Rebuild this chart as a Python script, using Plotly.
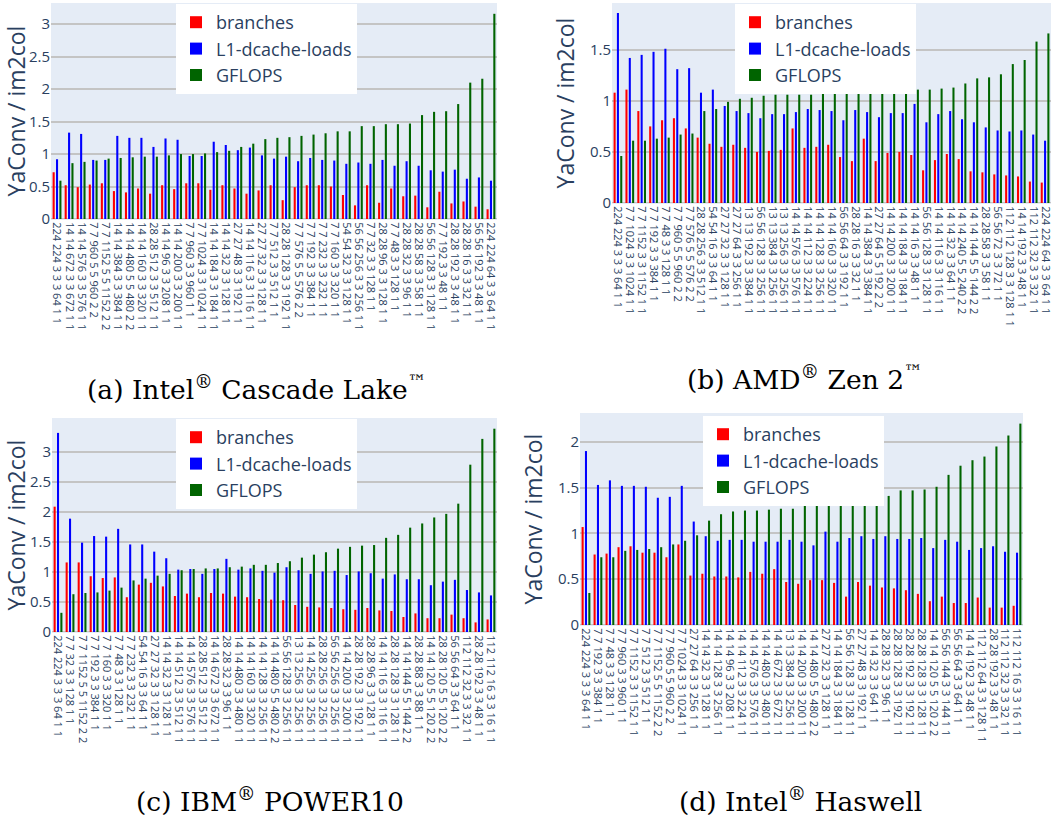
import plotly.graph_objects as go

labels_a = [
    "224 224 3 3 3 64 1 1", "14 14 672 3 3 672 1 1", "14 14 576 3 3 576 1 1",
    "7 7 960 5 5 960 2 2", "7 7 1152 5 5 1152 2 2", "14 14 384 3 3 384 1 1",
    "14 14 480 5 5 480 2 2", "14 14 160 3 3 320 1 1", "28 28 512 3 3 512 1 1",
    "14 14 96 3 3 208 1 1", "14 14 200 3 3 200 1 1", "7 7 960 3 3 960 1 1",
    "7 7 1024 3 3 1024 1 1", "14 14 184 3 3 184 1 1", "14 14 32 3 3 128 1 1",
    "27 27 48 3 3 192 1 1", "14 14 116 3 3 116 1 1", "27 27 32 3 3 128 1 1",
    "7 7 512 3 3 512 1 1", "28 28 128 3 3 192 1 1", "7 7 576 5 5 576 2 2",
    "7 7 192 3 3 384 1 1", "7 7 232 3 3 232 1 1", "7 7 160 3 3 320 1 1",
    "54 54 32 3 3 128 1 1", "56 56 256 3 3 256 1 1", "7 7 32 3 3 128 1 1",
    "28 28 96 3 3 128 1 1", "7 7 48 3 3 128 1 1", "28 28 32 3 3 96 1 1",
    "28 28 58 3 3 58 1 1", "56 56 128 3 3 128 1 1", "7 7 192 3 3 48 1 1",
    "28 28 192 3 3 48 1 1", "28 28 16 3 3 32 1 1", "56 56 192 3 3 48 1 1",
    "224 224 64 3 3 64 1 1"]
branches_a = [0.72, 0.52, 0.49, 0.53, 0.55, 0.43, 0.41, 0.47, 0.39, 0.52, 0.46, 0.55, 0.55,
              0.45, 0.52, 0.47, 0.39, 0.44, 0.52, 0.29, 0.49, 0.52, 0.52, 0.50, 0.37, 0.21,
              0.52, 0.25, 0.47, 0.35, 0.36, 0.18, 0.42, 0.24, 0.27, 0.19, 0.15]
l1_a = [0.92, 1.33, 1.31, 0.91, 0.91, 1.28, 1.25, 1.25, 1.11, 1.24, 1.22, 0.97, 0.97,
        1.19, 1.14, 1.06, 1.10, 0.98, 0.93, 0.96, 0.89, 0.94, 0.91, 0.90, 0.85, 0.87,
        0.85, 0.91, 0.82, 0.89, 0.82, 0.75, 0.73, 0.76, 0.62, 0.64, 0.59]
gflops_a = [0.59, 0.86, 0.88, 0.90, 0.93, 0.94, 0.95, 0.96, 0.96, 0.98, 1.00, 1.00, 1.01,
            1.03, 1.05, 1.11, 1.16, 1.23, 1.25, 1.26, 1.28, 1.30, 1.32, 1.35, 1.35, 1.43,
            1.43, 1.46, 1.46, 1.47, 1.60, 1.65, 1.66, 1.77, 2.10, 2.16, 3.16]

labels_b = [
    "224 224 3 3 3 64 1 1", "7 7 1024 3 3 1024 1 1", "7 7 1152 3 3 1152 1 1",
    "7 7 192 3 3 384 1 1", "7 7 48 3 3 128 1 1", "7 7 960 5 5 960 2 2",
    "7 7 576 5 5 576 2 2", "28 28 256 3 3 512 1 1", "54 54 16 3 3 64 1 1",
    "27 27 32 3 3 128 1 1", "27 27 64 3 3 256 1 1", "13 13 192 3 3 384 1 1",
    "56 56 128 3 3 256 1 1", "13 13 384 3 3 256 1 1", "13 13 256 3 3 256 1 1",
    "14 14 576 3 3 576 1 1", "14 14 112 3 3 224 1 1", "14 14 128 3 3 256 1 1",
    "14 14 160 3 3 320 1 1", "56 56 64 3 3 192 1 1", "28 28 16 3 3 32 1 1",
    "14 14 384 3 3 384 1 1", "27 27 64 5 5 192 2 2", "14 14 200 3 3 200 1 1",
    "14 14 184 3 3 184 1 1", "14 14 16 3 3 48 1 1", "56 56 128 3 3 128 1 1",
    "14 14 116 3 3 116 1 1", "14 14 32 3 3 64 1 1", "14 14 240 5 5 240 2 2",
    "14 14 144 5 5 144 2 2", "28 28 58 3 3 58 1 1", "56 56 72 3 3 72 1 1",
    "112 112 128 3 3 128 1 1", "14 14 192 3 3 48 1 1", "112 112 32 3 3 32 1 1",
    "224 224 64 3 3 64 1 1"]
branches_b = [1.08, 1.11, 0.90, 0.75, 0.81, 0.83, 0.73, 0.64, 0.58, 0.55, 0.57, 0.54, 0.50,
              0.51, 0.52, 0.73, 0.54, 0.55, 0.57, 0.45, 0.41, 0.63, 0.41, 0.49, 0.50, 0.47,
              0.32, 0.42, 0.48, 0.43, 0.31, 0.30, 0.28, 0.27, 0.26, 0.21, 0.20]
l1_b = [1.86, 1.42, 1.45, 1.48, 1.51, 1.31, 1.32, 1.08, 1.11, 0.95, 0.90, 0.88, 0.83,
        0.87, 0.87, 0.89, 0.92, 0.91, 0.90, 0.81, 0.91, 0.89, 0.84, 0.88, 0.88, 0.97,
        0.79, 0.87, 0.90, 0.82, 0.79, 0.74, 0.71, 0.70, 0.71, 0.67, 0.61]
gflops_b = [0.46, 0.61, 0.61, 0.63, 0.64, 0.67, 0.68, 0.90, 0.92, 0.99, 1.02, 1.03, 1.05,
            1.06, 1.06, 1.06, 1.06, 1.07, 1.07, 1.08, 1.08, 1.08, 1.09, 1.09, 1.10, 1.11,
            1.11, 1.12, 1.13, 1.17, 1.22, 1.23, 1.26, 1.36, 1.40, 1.58, 1.66]

labels_c = [
    "224 224 3 3 3 64 1 1", "7 7 32 3 3 128 1 1", "7 7 1152 5 5 1152 2 2",
    "7 7 192 3 3 384 1 1", "7 7 160 3 3 320 1 1", "7 7 48 3 3 128 1 1",
    "7 7 232 3 3 232 1 1", "54 54 16 3 3 64 1 1", "27 27 32 3 3 128 1 1",
    "14 14 32 3 3 128 1 1", "14 14 512 3 3 512 1 1", "14 14 576 3 3 576 1 1",
    "28 28 512 3 3 512 1 1", "14 14 672 3 3 672 1 1", "28 28 32 3 3 96 1 1",
    "14 14 480 3 3 480 1 1", "14 14 160 3 3 320 1 1", "14 14 128 3 3 256 1 1",
    "14 14 480 5 5 480 2 2", "56 56 128 3 3 256 1 1", "13 13 256 3 3 256 1 1",
    "14 14 256 3 3 256 1 1", "28 28 256 3 3 256 1 1", "56 56 256 3 3 256 1 1",
    "14 14 200 3 3 200 1 1", "28 28 192 3 3 192 1 1", "28 28 96 3 3 128 1 1",
    "14 14 116 3 3 116 1 1", "28 28 128 3 3 128 1 1", "14 14 144 5 5 144 2 2",
    "28 28 88 3 3 88 1 1", "14 14 120 5 5 120 2 2", "28 28 120 5 5 120 2 2",
    "56 56 64 3 3 64 1 1", "112 112 32 3 3 32 1 1", "28 28 192 3 3 48 1 1",
    "112 112 16 3 3 16 1 1"]
branches_c = [2.09, 1.16, 1.16, 0.93, 0.90, 0.91, 0.58, 0.79, 0.82, 0.76, 0.60, 0.64, 0.58,
              0.65, 0.64, 0.59, 0.58, 0.55, 0.54, 0.53, 0.45, 0.42, 0.41, 0.40, 0.38, 0.37,
              0.40, 0.36, 0.35, 0.25, 0.31, 0.23, 0.23, 0.29, 0.23, 0.16, 0.21]
l1_c = [3.32, 1.89, 1.49, 1.60, 1.59, 1.72, 1.46, 1.46, 1.34, 1.23, 1.04, 1.05, 0.97,
        1.05, 1.22, 1.04, 1.06, 1.02, 0.99, 1.08, 1.03, 0.97, 1.01, 1.02, 0.95, 1.01,
        0.98, 0.89, 0.96, 0.88, 0.88, 0.78, 0.84, 0.87, 0.70, 0.66, 0.61]
gflops_c = [0.32, 0.63, 0.65, 0.66, 0.69, 0.74, 0.86, 0.89, 0.94, 0.97, 1.03, 1.05, 1.06,
            1.06, 1.08, 1.09, 1.12, 1.12, 1.15, 1.18, 1.24, 1.29, 1.33, 1.39, 1.42, 1.44,
            1.45, 1.57, 1.62, 1.74, 1.81, 1.91, 1.97, 2.14, 2.79, 3.22, 3.39]

labels_d = [
    "224 224 3 3 3 64 1 1", "7 7 192 3 3 384 1 1", "7 7 48 3 3 128 1 1",
    "7 7 960 3 3 960 1 1", "7 7 1152 3 3 1152 1 1", "7 7 512 3 3 512 1 1",
    "7 7 1152 5 5 1152 2 2", "7 7 960 5 5 960 2 2", "7 7 1024 3 3 1024 1 1",
    "27 27 64 3 3 256 1 1", "14 14 32 3 3 128 1 1", "14 14 128 3 3 256 1 1",
    "14 14 96 3 3 208 1 1", "14 14 112 3 3 224 1 1", "14 14 576 3 3 576 1 1",
    "14 14 480 3 3 480 1 1", "14 14 672 3 3 672 1 1", "13 13 384 3 3 256 1 1",
    "14 14 200 3 3 200 1 1", "14 14 480 5 5 480 2 2", "27 27 32 3 3 128 1 1",
    "14 14 184 3 3 184 1 1", "56 56 128 3 3 128 1 1", "27 27 48 3 3 192 1 1",
    "14 14 32 3 3 64 1 1", "28 28 32 3 3 96 1 1", "28 28 128 3 3 192 1 1",
    "28 28 192 3 3 192 1 1", "28 28 128 3 3 128 1 1", "14 14 120 5 5 120 2 2",
    "56 56 144 3 3 144 1 1", "56 56 64 3 3 64 1 1", "14 14 192 3 3 48 1 1",
    "112 112 64 3 3 128 1 1", "28 28 192 3 3 48 1 1", "112 112 32 3 3 32 1 1",
    "112 112 16 3 3 16 1 1"]
branches_d = [1.07, 0.77, 0.78, 0.85, 0.86, 0.79, 0.79, 0.74, 0.88, 0.54, 0.56, 0.53, 0.53,
              0.52, 0.58, 0.56, 0.61, 0.47, 0.45, 0.49, 0.49, 0.46, 0.31, 0.47, 0.43, 0.41,
              0.40, 0.38, 0.34, 0.26, 0.31, 0.24, 0.24, 0.30, 0.19, 0.19, 0.21]
l1_d = [1.90, 1.53, 1.58, 1.52, 1.52, 1.51, 1.39, 1.40, 1.52, 1.13, 0.97, 0.92, 0.93,
        0.93, 0.91, 0.91, 0.91, 0.93, 0.91, 0.87, 1.02, 0.91, 0.95, 0.97, 0.94, 0.97,
        0.94, 0.94, 0.95, 0.84, 0.93, 0.91, 0.82, 0.84, 0.86, 0.80, 0.79]
gflops_d = [0.35, 0.74, 0.74, 0.81, 0.82, 0.83, 0.85, 0.88, 0.92, 0.98, 1.14, 1.21, 1.24,
            1.25, 1.25, 1.26, 1.27, 1.27, 1.30, 1.33, 1.33, 1.34, 1.36, 1.37, 1.40, 1.41,
            1.47, 1.47, 1.48, 1.51, 1.64, 1.74, 1.80, 1.84, 1.95, 2.07, 2.20]

series_names = ["branches", "L1-dcache-loads", "GFLOPS"]
series_colors = ["#ff0000", "#0000ff", "#006400"]

captions = ["(a) Intel<sup>®</sup> Cascade Lake<sup>™</sup>",
            "(b) AMD<sup>®</sup> Zen 2<sup>™</sup>",
            "(c) IBM<sup>®</sup> POWER10",
            "(d) Intel<sup>®</sup> Haswell"]
y_ticks = [[0, 0.5, 1, 1.5, 2, 2.5, 3], [0, 0.5, 1, 1.5],
           [0, 0.5, 1, 1.5, 2, 2.5, 3], [0, 0.5, 1, 1.5, 2]]

W, H = 1053, 825
# pixel boxes: (left, right, top, bottom)
boxes = [(51, 497, 3, 219), (612, 1051, 3, 203), (52, 497, 418, 632), (580, 1023, 413, 625)]
legend_pos = [(176, 4), (735, 4), (176, 419), (703, 416)]
caption_pos = [(256, 388), (805, 378), (270, 800), (800, 800)]

panels = [
    (labels_a, [branches_a, l1_a, gflops_a]),
    (labels_b, [branches_b, l1_b, gflops_b]),
    (labels_c, [branches_c, l1_c, gflops_c]),
    (labels_d, [branches_d, l1_d, gflops_d]),
]

fig = go.Figure()
layout = dict(
    width=W, height=H,
    margin=dict(l=0, r=0, t=0, b=0),
    paper_bgcolor="white",
    plot_bgcolor="#E5ECF6",
    barmode="group",
    bargap=0.16,
    bargroupgap=0.38,
    font=dict(family="Open Sans, Verdana, Arial, sans-serif", color="#2a3f5f"),
    annotations=[],
)

for i, (labels, vals) in enumerate(panels):
    sfx = "" if i == 0 else str(i + 1)
    lg = "legend" if i == 0 else f"legend{i + 1}"
    for name, col, v in zip(series_names, series_colors, vals):
        fig.add_trace(go.Bar(
            x=labels, y=v, name=name, marker_color=col,
            marker_line_width=0,
            xaxis="x" + sfx, yaxis="y" + sfx, legend=lg,
        ))
    l, r, t, b = boxes[i]
    layout["xaxis" + sfx] = dict(
        domain=[l / W, r / W], anchor="y" + sfx, type="category",
        tickmode="linear", tick0=0, dtick=1,
        tickangle=90, tickfont=dict(size=11, color="#2a3f5f"),
        showgrid=False, automargin=False, ticks="", linecolor="#E5ECF6",
    )
    layout["yaxis" + sfx] = dict(
        domain=[1 - b / H, 1 - t / H], anchor="x" + sfx,
        tickmode="array", tickvals=y_ticks[i],
        tickfont=dict(size=15, color="#2a3f5f"),
        title=dict(text="YaConv / im2col", font=dict(size=23, color="#2a3f5f"), standoff=8),
        gridcolor="#c4c4c4", gridwidth=1.5, zeroline=True, zerolinecolor="#c4c4c4",
        zerolinewidth=1.5, automargin=False, rangemode="tozero",
    )
    lx, ly = legend_pos[i]
    layout[lg] = dict(
        x=lx / W, y=1 - ly / H, xanchor="left", yanchor="top",
        bgcolor="white", font=dict(size=18, color="#2a3f5f"),
    )
    cx, cy = caption_pos[i]
    layout["annotations"].append(dict(
        text=captions[i], x=cx / W, y=1 - cy / H, xref="paper", yref="paper",
        xanchor="center", yanchor="middle", showarrow=False,
        font=dict(family="DejaVu Serif, Liberation Serif, serif", size=26.5, color="#000000"),
    ))

fig.update_layout(**layout)
fig.write_html("out.html")
